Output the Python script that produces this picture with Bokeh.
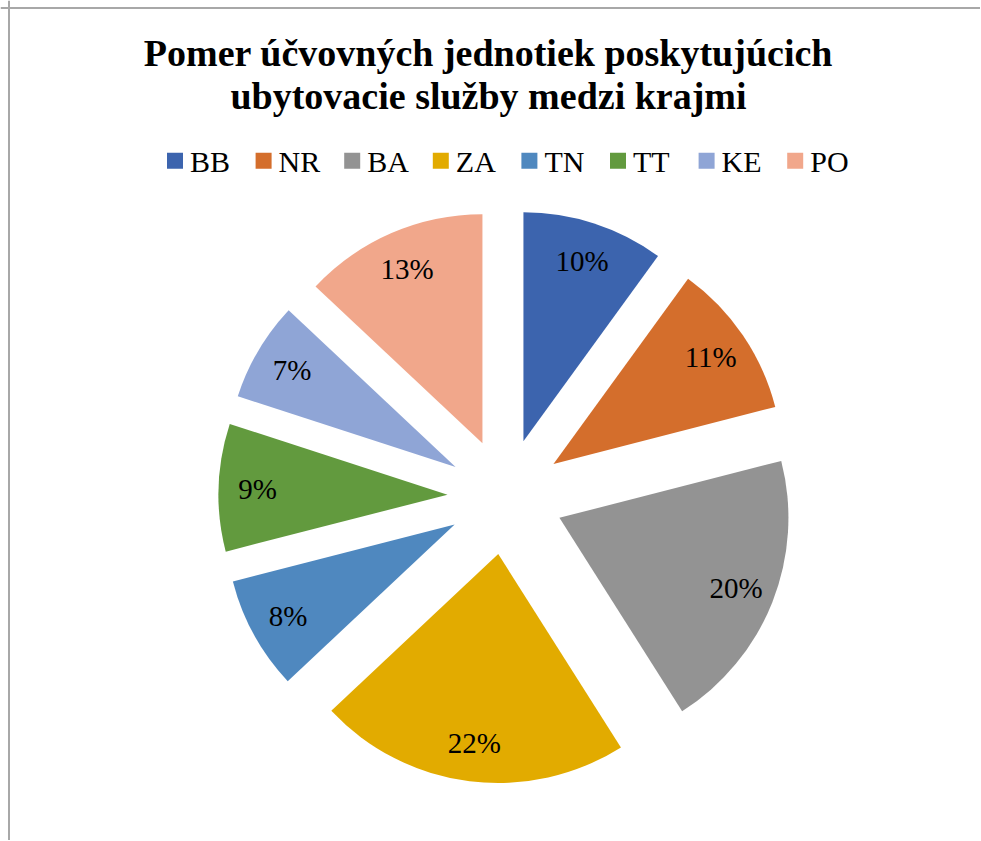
import math
import numpy as np
from bokeh.plotting import figure
from bokeh.models import ColumnDataSource, Range1d, Span
from bokeh.core.properties import value
from bokeh.embed import file_html
from bokeh.resources import INLINE

# ---- data ----
regions = ["BB", "NR", "BA", "ZA", "TN", "TT", "KE", "PO"]
shares = [10, 11, 20, 22, 8, 9, 7, 13]
colors = ["#3C64AE", "#D46E2C", "#939393", "#E2AB00", "#4F88BF", "#629A3E", "#8FA5D6", "#F1A78B"]
title_lines = ["Pomer účvovných jednotiek poskytujúcich", "ubytovacie služby medzi krajmi"]

# ---- layout (page pixel coordinates; y is negated) ----
W, H = 980, 840
SERIF = value("Liberation Serif")

p = figure(width=W, height=H,
           x_range=Range1d(0, W), y_range=Range1d(-H, 0),
           output_backend="svg", toolbar_location=None, min_border=0)
p.axis.visible = False
p.grid.visible = False
p.outline_line_color = None
p.background_fill_color = "white"
p.border_fill_color = "white"

# chart area border (left and top visible)
p.add_layout(Span(location=8.5, dimension="height", line_color="#A8A8A8", line_width=2))
p.add_layout(Span(location=-7.5, dimension="width", line_color="#A8A8A8", line_width=2))

# ---- exploded pie ----
cx, cy = 505.0, -496.0
radius = 229.0
explode = 58.0
total = float(sum(shares))
cum = np.cumsum([0] + shares) / total * 2 * math.pi   # clockwise from 12 o'clock
t0 = cum[:-1]
t1 = cum[1:]
mid = (t0 + t1) / 2
xs = cx + explode * np.sin(mid)
ys = cy + explode * np.cos(mid)
lab_r = 0.83 * radius

src = ColumnDataSource(dict(
    region=regions,
    share=shares,
    color=colors,
    x=xs, y=ys,
    start=math.pi / 2 - t1,
    end=math.pi / 2 - t0,
    lx=xs + lab_r * np.sin(mid),
    ly=ys + lab_r * np.cos(mid),
    label=[f"{round(s / total * 100)}%" for s in shares],
))

p.wedge(x="x", y="y", radius=radius, start_angle="start", end_angle="end",
        direction="anticlock", fill_color="color", line_color=None, source=src)

p.text(x="lx", y="ly", text="label", source=src, text_font=SERIF,
       text_font_size="29px", text_color="#000000",
       text_align="center", text_baseline="middle")

# ---- title ----
p.text(x=[488, 488], y=[-52, -95], text=title_lines, text_font=SERIF,
       text_font_size="38px", text_font_style="bold", text_color="#000000",
       text_align="center", text_baseline="middle")

# ---- legend (horizontal row) ----
pitch = 88.6
idx = np.arange(len(regions))
leg = ColumnDataSource(dict(
    sx=174.5 + idx * pitch,
    tx=189.5 + idx * pitch,
    sy=[-160.3] * len(regions),
    ty=[-160.5] * len(regions),
    color=colors,
    region=regions,
))
p.rect(x="sx", y="sy", width=16, height=16, fill_color="color", line_color=None, source=leg)
p.text(x="tx", y="ty", text="region", source=leg, text_font=SERIF,
       text_font_size="30px", text_color="#000000",
       text_align="left", text_baseline="middle")

open("out.html", "w").write(file_html(p, INLINE))
